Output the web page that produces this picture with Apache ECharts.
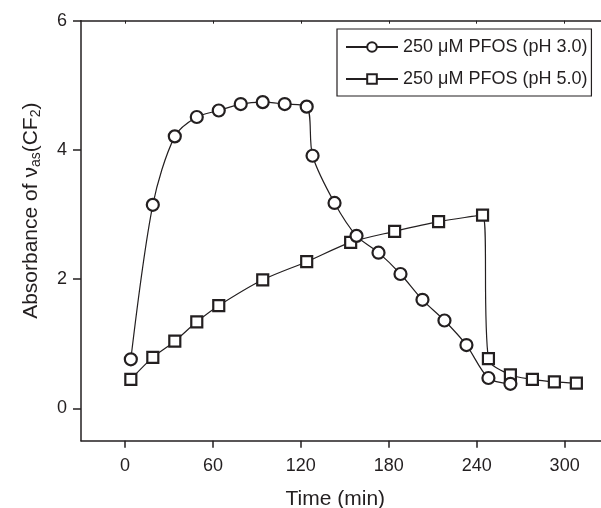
<!DOCTYPE html>
<html>
<head>
<meta charset="utf-8">
<script src="https://cdn.jsdelivr.net/npm/echarts@6/dist/echarts.min.js"></script>
<style>
html,body{margin:0;padding:0;background:#fff;}
#chart{width:601px;height:508px;}
</style>
</head>
<body>
<div id="chart"></div>
<script>
// Data
var timePH3 = [4, 19, 34, 49, 64, 79, 94, 109, 124, 128, 143, 158, 173, 188, 203, 218, 233, 248, 263];
var absPH3  = [0.76, 3.15, 4.21, 4.51, 4.61, 4.71, 4.74, 4.71, 4.67, 3.91, 3.18, 2.67, 2.41, 2.08, 1.68, 1.36, 0.98, 0.47, 0.38];
var timePH5 = [4, 19, 34, 49, 64, 94, 124, 154, 184, 214, 244, 248, 263, 278, 293, 308];
var absPH5  = [0.45, 0.79, 1.04, 1.34, 1.59, 1.99, 2.27, 2.57, 2.74, 2.89, 2.99, 0.77, 0.52, 0.45, 0.41, 0.39];
var seriesNames = ['250 \u03bcM PFOS (pH 3.0)', '250 \u03bcM PFOS (pH 5.0)'];
var xTicks = [0, 60, 120, 180, 240, 300];
var yTicks = [0, 2, 4, 6];

function pairs(xs, ys) { return xs.map(function (x, i) { return [x, ys[i]]; }); }

var ink = '#231f20';
var font = 'Liberation Sans, Arial, Helvetica, sans-serif';

var chart = echarts.init(document.getElementById('chart'), null, {renderer: 'canvas'});
chart.setOption({
  animation: false,
  backgroundColor: '#fff',
  grid: {left: 81, top: 20.7, width: 527.6, height: 420, containLabel: false, outerBoundsMode: 'none'},
  legend: {
    left: 337, top: 29,
    orient: 'vertical',
    data: seriesNames,
    itemWidth: 52, itemHeight: 12, itemGap: 14,
    padding: [9, 4, 8, 8],
    borderColor: ink, borderWidth: 1.2, borderRadius: 0,
    backgroundColor: '#fff',
    textStyle: {fontFamily: font, fontSize: 18, color: ink}
  },
  xAxis: [{
    type: 'value', position: 'bottom',
    min: -30, max: 330, interval: 30,
    name: 'Time (min)', nameLocation: 'middle', nameGap: 48,
    nameTextStyle: {fontFamily: font, fontSize: 21, color: ink, padding: [0, 19, 0, 0]},
    axisLine: {show: true, onZero: false, lineStyle: {color: ink, width: 1.5}},
    axisTick: {show: true, inside: false, length: 7, lineStyle: {color: ink, width: 1.5},
      customValues: xTicks},
    axisLabel: {show: true, margin: 16, fontFamily: font, fontSize: 18, color: ink,
      customValues: xTicks},
    splitLine: {show: false}
  }, {
    type: 'value', position: 'top',
    min: -30, max: 330,
    axisLine: {show: true, onZero: false, lineStyle: {color: ink, width: 1.5}},
    axisTick: {show: true, inside: true, length: 3, lineStyle: {color: ink, width: 1},
      customValues: xTicks},
    axisLabel: {show: false},
    splitLine: {show: false}
  }],
  yAxis: [{
    type: 'value', position: 'left',
    min: -0.5, max: 6, interval: 0.5,
    name: 'Absorbance of {g|\u03bd}{sub|as}(CF{sub|2})',
    nameLocation: 'middle', nameGap: 38, nameRotate: 90,
    nameTextStyle: {fontFamily: font, fontSize: 21, color: ink, padding: [0, 0, 0, 40],
      rich: {
        g: {fontFamily: font, fontSize: 21, color: ink},
        sub: {fontFamily: font, fontSize: 14, color: ink, padding: [10, 0, 0, 0]}
      }},
    axisLine: {show: true, onZero: false, lineStyle: {color: ink, width: 1.5}},
    axisTick: {show: true, inside: false, length: 8, lineStyle: {color: ink, width: 1.5},
      customValues: yTicks},
    axisLabel: {show: true, margin: 14, fontFamily: font, fontSize: 18, color: ink,
      customValues: yTicks},
    splitLine: {show: false}
  }],
  series: [{
    name: seriesNames[0], type: 'line',
    data: pairs(timePH3, absPH3),
    smooth: 0.3,
    symbol: 'circle', symbolSize: 12, showAllSymbol: true,
    lineStyle: {color: ink, width: 1.2},
    itemStyle: {color: '#fff', borderColor: ink, borderWidth: 2.2},
    z: 3
  }, {
    name: seriesNames[1], type: 'line',
    data: pairs(timePH5, absPH5),
    smooth: 0.3,
    symbol: 'rect', symbolSize: 11, showAllSymbol: true,
    lineStyle: {color: ink, width: 1.2},
    itemStyle: {color: '#fff', borderColor: ink, borderWidth: 2.2},
    z: 2
  }]
});
</script>
</body>
</html>
